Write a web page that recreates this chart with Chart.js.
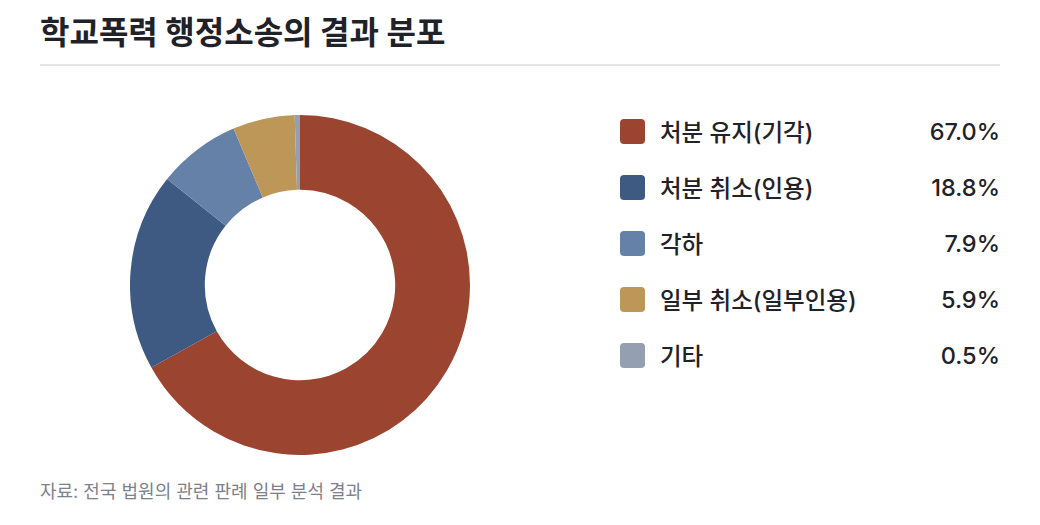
<!DOCTYPE html>
<html lang="ko">
<head>
<meta charset="utf-8">
<script src="https://cdn.jsdelivr.net/npm/chart.js@4"></script>
<style>
  html, body { margin: 0; padding: 0; background: #fff; }
  body { width: 1040px; height: 525px; position: relative; font-family: Inter, "Noto Sans CJK KR", "Noto Sans", sans-serif; color: #1f2228; overflow: hidden; }
  h1 { position: absolute; left: 40px; top: 12px; margin: 0; font-size: 32px; line-height: 42px; font-weight: 700; }
  .rule { position: absolute; left: 40px; top: 64px; width: 960px; height: 2px; background: #e3e5e9; }
  #wrap { position: absolute; left: 130px; top: 115px; width: 340px; height: 340px; }
  #legend { position: absolute; left: 620px; top: 103px; width: 380px; }
  .row { display: flex; align-items: center; height: 56px; }
  .sw { width: 25px; height: 25px; border-radius: 4px; margin-right: 15px; flex: none; }
  .lbl { font-size: 23.5px; flex: 1; font-weight: 500; }
  .val { font-size: 23.5px; text-align: right; font-weight: 500; }
  .src { position: absolute; left: 40px; top: 480px; font-size: 18px; line-height: 24px; color: #7d818c; }
</style>
</head>
<body>
<h1>학교폭력 행정소송의 결과 분포</h1>
<div class="rule"></div>
<div id="wrap"><canvas id="donut"></canvas></div>
<div id="legend"></div>
<div class="src">자료: 전국 법원의 관련 판례 일부 분석 결과</div>
<script>
const categories = ['처분 유지(기각)', '처분 취소(인용)', '각하', '일부 취소(일부인용)', '기타'];
const shares = [67.0, 18.8, 7.9, 5.9, 0.5];
const colors = ['#9b4530', '#3e5a82', '#6581a8', '#bd9757', '#94a0b0'];

const legend = document.getElementById('legend');
categories.forEach(function(name, i) {
    const row = document.createElement('div');
    row.className = 'row';
    row.innerHTML = '<span class="sw" style="background:' + colors[i] + '"></span>' +
        '<span class="lbl">' + name + '</span>' +
        '<span class="val">' + shares[i].toFixed(1) + '%</span>';
    legend.appendChild(row);
});

const ctx = document.getElementById('donut').getContext('2d');
const donut = new Chart(ctx, {
    type: 'doughnut',
    data: {
        labels: categories,
        datasets: [{
            data: shares,
            backgroundColor: colors,
            borderWidth: 0,
            hoverOffset: 0
        }]
    },
    options: {
        responsive: true,
        maintainAspectRatio: false,
        animation: false,
        cutout: '56%',
        layout: { padding: 0 },
        plugins: {
            legend: { display: false },
            tooltip: { enabled: false }
        }
    }
});
</script>
</body>
</html>
